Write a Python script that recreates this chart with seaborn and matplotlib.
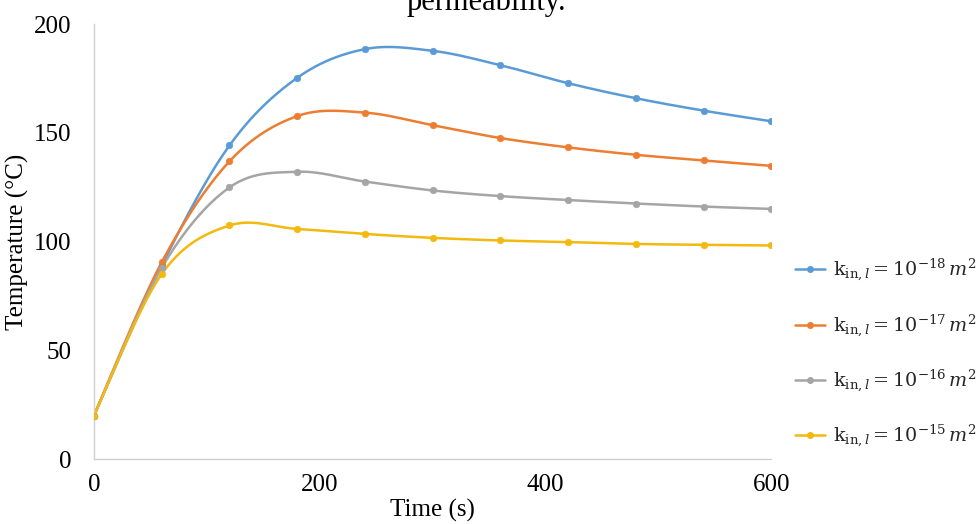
import numpy as np
import pandas as pd
import matplotlib
matplotlib.use("Agg")
import matplotlib.pyplot as plt
import seaborn as sns
from matplotlib.lines import Line2D

# ---- data ----
time_s = [0, 60, 120, 180, 240, 300, 360, 420, 480, 540, 600]
k_18 = [20, 89, 144.2, 175.3, 188.5, 187.7, 181.1, 172.8, 165.9, 160.2, 155.3]
k_17 = [20, 90.5, 136.9, 157.7, 159.3, 153.5, 147.6, 143.3, 139.9, 137.3, 134.8]
k_16 = [20, 88, 124.9, 132.1, 127.6, 123.5, 120.9, 119.1, 117.5, 116.1, 115.0]
k_15 = [20, 85.1, 107.4, 105.8, 103.5, 101.7, 100.5, 99.8, 98.9, 98.5, 98.2]

labels = [r'$\mathrm{k}_{\mathrm{in},l} = 10^{-18}\,m^2$',
          r'$\mathrm{k}_{\mathrm{in},l} = 10^{-17}\,m^2$',
          r'$\mathrm{k}_{\mathrm{in},l} = 10^{-16}\,m^2$',
          r'$\mathrm{k}_{\mathrm{in},l} = 10^{-15}\,m^2$']
series = [k_18, k_17, k_16, k_15]
colors = ['#5B9BD5', '#ED7D31', '#A5A5A5', '#F2B90F']

x_ticks = [0, 200, 400, 600]
y_ticks = [0, 50, 100, 150, 200]


def smooth(xs, ys, n=30):
    """Excel-style smoothed line (cubic Bezier with 1/6 tangents)."""
    P = np.column_stack([xs, ys]).astype(float)
    Pext = np.vstack([P[0], P, P[-1]])
    out = []
    t = np.linspace(0, 1, n)[:, None]
    for i in range(len(P) - 1):
        p0, p1 = Pext[i + 1], Pext[i + 2]
        c1 = p0 + (Pext[i + 2] - Pext[i]) / 6.0
        c2 = p1 - (Pext[i + 3] - Pext[i + 1]) / 6.0
        seg = ((1 - t) ** 3) * p0 + 3 * ((1 - t) ** 2) * t * c1 + 3 * (1 - t) * t ** 2 * c2 + t ** 3 * p1
        out.append(seg if i == 0 else seg[1:])
    arr = np.vstack(out)
    return arr[:, 0], arr[:, 1]


sns.set_theme(style="white")
plt.rcParams['font.family'] = ['Liberation Serif', 'DejaVu Serif']
plt.rcParams['mathtext.fontset'] = 'dejavuserif'

fig = plt.figure(figsize=(9.79, 5.24), dpi=100)
ax = fig.add_axes([0.096, 0.124, 0.692, 0.830])

for ys, lab, col in zip(series, labels, colors):
    sx, sy = smooth(time_s, ys)
    sns.lineplot(x=sx, y=sy, ax=ax, color=col, linewidth=1.8, sort=False, estimator=None)
    df = pd.DataFrame({'t': time_s, 'T': ys})
    sns.scatterplot(data=df, x='t', y='T', ax=ax, color=col, s=22, edgecolor=col, linewidth=0.5, zorder=3)

ax.set_xlim(0, 600)
ax.set_ylim(0, 200)
ax.set_xticks(x_ticks)
ax.set_yticks(y_ticks)
ax.tick_params(axis='both', length=0, labelsize=18, colors='black')
ax.tick_params(axis='x', pad=11)
ax.tick_params(axis='y', pad=16)
for s in ['top', 'right']:
    ax.spines[s].set_visible(False)
for s in ['left', 'bottom']:
    ax.spines[s].set_color('#D0D0D0')
    ax.spines[s].set_linewidth(1.0)
ax.grid(False)

ax.set_xlabel('Time (s)', fontsize=18, color='black', labelpad=2)
ax.set_ylabel('Temperature (°C)', fontsize=18, color='black', labelpad=4)

handles = [Line2D([0], [0], color=c, linewidth=1.8, marker='o', markersize=4) for c in colors]
leg = fig.legend(handles, labels, loc='center left', bbox_to_anchor=(0.804, 0.326),
                 frameon=False, fontsize=13.8, labelspacing=1.5, handlelength=1.6,
                 handletextpad=0.4, borderaxespad=0)

fig.text(0.497, 1 - 10 / 524, 'permeability.', ha='center', va='baseline', fontsize=22, color='black')

fig.savefig('out.png', dpi=100)
